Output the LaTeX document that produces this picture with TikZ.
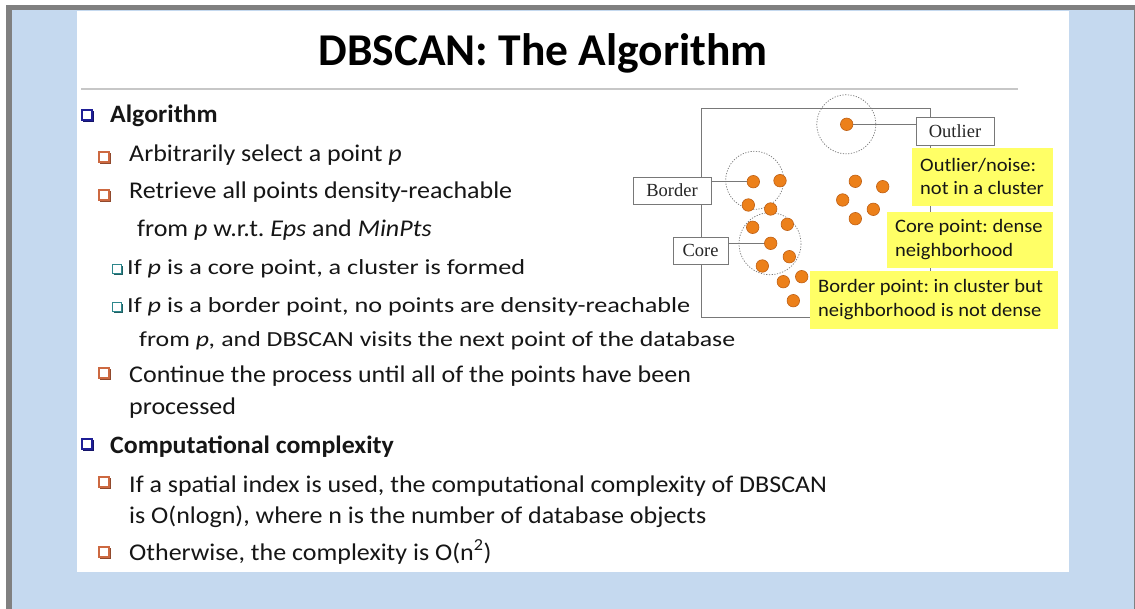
\documentclass[tikz,border=0pt]{standalone}
\usepackage{fontspec}
\setmainfont{Carlito}
\newfontfamily\tms{Liberation Serif}
\newfontfamily\bodyH[FakeStretch=1.035]{Carlito}
\newfontfamily\bodyA[FakeStretch=1.083]{Carlito}
\newfontfamily\bodyB[FakeStretch=1.22]{Carlito}
\newfontfamily\bodyY[FakeStretch=1.08]{Carlito}
\frenchspacing
\definecolor{slideblue}{RGB}{197,217,239}
\definecolor{framegray}{RGB}{128,128,128}
\definecolor{bulblue}{RGB}{30,30,150}
\definecolor{bulorange}{RGB}{205,105,65}
\definecolor{bulteal}{RGB}{45,135,140}
\definecolor{ptorange}{RGB}{236,128,26}
\definecolor{ptedge}{RGB}{190,95,20}
\definecolor{hl}{RGB}{255,255,102}
\definecolor{txt}{RGB}{22,22,22}
\definecolor{lineg}{RGB}{120,120,120}
\begin{document}
\begin{tikzpicture}[x=1pt,y=-1pt,
  lvlA/.style={anchor=base west,inner sep=0,text=txt,font=\bodyH\bfseries\fontsize{25}{30}\selectfont},
  lvlB/.style={anchor=base west,inner sep=0,text=txt,font=\bodyA\fontsize{24}{29}\selectfont},
  lvlC/.style={anchor=base west,inner sep=0,text=txt,font=\bodyB\fontsize{21.5}{26}\selectfont},
  pt/.style={circle,fill=ptorange,draw=ptedge,line width=0.6pt,minimum size=12.5pt,inner sep=0},
  nbhd/.style={draw=lineg,dash pattern=on 1.2pt off 1.5pt,line width=0.7pt},
  lab/.style={draw=lineg,fill=white,line width=0.9pt,inner sep=0,font=\tms\fontsize{18.5}{20}\selectfont,text=black!85},
  notebox/.style={fill=hl,anchor=north west,inner sep=0},
  notetext/.style={anchor=base west,inner sep=0,text=txt,font=\bodyY\fontsize{19}{23.5}\selectfont},
  conn/.style={draw=lineg,line width=0.9pt},
  pics/sqb/.style={code={
    \draw[line width=1.5pt,#1] (-5,-5) rectangle (5,5);
    \draw[line width=1.5pt,#1!70!black] (-3.8,6.4) -- (6.4,6.4) -- (6.4,-3.8);}},
  pics/sqbs/.style={code={
    \draw[line width=1.3pt,#1] (-4.4,-4.4) rectangle (4.4,4.4);
    \draw[line width=1.3pt,#1!70!black] (-3.3,5.6) -- (5.6,5.6) -- (5.6,-3.3);}}
]
\useasboundingbox (0,0) rectangle (1135,609);
% frame
\fill[white] (0,0) rectangle (1135,609);
\fill[framegray] (6,5) rectangle (1135,609);
\fill[slideblue] (12,10) rectangle (1133.5,609);
\fill[white] (77,11) rectangle (1069,572);
% title
\node[anchor=base,inner sep=0,font=\bfseries\fontsize{45.5}{50}\selectfont,text=black] (title) at (543,65.5) {DBSCAN: The Algorithm};
\draw[line width=1.6pt,black!22] (81,89) -- (1018,89);
% bullets
\pic at (87,115) {sqb=bulblue};
\pic at (104,157) {sqb=bulorange};
\pic at (104,195) {sqb=bulorange};
\pic at (117,269) {sqbs=bulteal};
\pic at (117,307) {sqbs=bulteal};
\pic at (104,373) {sqb=bulorange};
\pic at (87,444) {sqb=bulblue};
\pic at (104,482) {sqb=bulorange};
\pic at (104,552) {sqb=bulorange};
% text
\node[lvlA] (t1) at (110,123) {Algorithm};
\node[lvlB] (t2) at (129,162) {Arbitrarily select a point \textit{p}};
\node[lvlB] (t3) at (129,199) {Retrieve all points density-reachable};
\node[lvlB] (t4) at (137,237) {from \textit{p} w.r.t. \textit{Eps} and \textit{MinPts}};
\node[lvlC] (t5) at (127,275) {If \textit{p} is a core point, a cluster is formed};
\node[lvlC] (t6) at (127,313) {If \textit{p} is a border point, no points are density-reachable};
\node[lvlC,xscale=0.985] (t7) at (139,347) {from \textit{p,} and DBSCAN visits the next point of the database};
\node[lvlB] (t8) at (129,383) {Continue the process until all of the points have been};
\node[lvlB] (t9) at (129,414) {processed};
\node[lvlA] (t10) at (110,453) {Computational complexity};
\node[lvlB] (t11) at (129,492) {If a spatial index is used, the computational complexity of DBSCAN};
\node[lvlB] (t12) at (129,523) {is O(nlogn), where n is the number of database objects};
\node[lvlB] (t13) at (129,560) {Otherwise, the complexity is O(n\textsuperscript{2})};
% diagram frame
\draw[lineg,line width=0.9pt] (701,108) rectangle (930,317.5);
% neighbourhoods
\draw[nbhd] (754.7,180.3) circle (29);
\draw[nbhd] (770,243.7) circle (31);
\draw[nbhd] (846.3,124.3) circle (29.5);
% points
\node[pt] (p1) at (753.3,181.7) {};
\node[pt] (p2) at (780,180.7) {};
\node[pt] (p3) at (748.3,205) {};
\node[pt] (p4) at (770.7,209) {};
\node[pt] (p5) at (752.7,227.3) {};
\node[pt] (p6) at (787.3,224.3) {};
\node[pt] (p7) at (770.7,243.3) {};
\node[pt] (p8) at (789.3,256.7) {};
\node[pt] (p9) at (762.3,266) {};
\node[pt] (p10) at (801.7,276.7) {};
\node[pt] (p11) at (783.3,281.7) {};
\node[pt] (p12) at (793.3,300.7) {};
\node[pt] (p13) at (846.7,124.3) {};
\node[pt] (p14) at (855.3,181.3) {};
\node[pt] (p15) at (882.7,186.7) {};
\node[pt] (p16) at (842.7,200) {};
\node[pt] (p17) at (873.3,209.3) {};
\node[pt] (p18) at (855.3,218.7) {};
% labels
\node[lab,minimum width=78pt,minimum height=27pt] (border) at (672,190.5) {Border};
\node[lab,minimum width=55pt,minimum height=27pt] (core) at (700.5,250.5) {Core};
\node[lab,minimum width=78pt,minimum height=28pt] (outlier) at (955,131) {Outlier};
\draw[conn] (border.east |- p1) -- (p1.west);
\draw[conn] (core.east |- p7) -- (p7.west);
\draw[conn] (p13.east) -- (p13 -| outlier.west);
% notes
\node[notebox,minimum width=141pt,minimum height=58pt] (n1) at (912,148) {};
\node[notebox,minimum width=166pt,minimum height=56pt] (n2) at (887,212) {};
\node[notebox,minimum width=248pt,minimum height=58pt] (n3) at (810,271) {};
\node[notetext] (n1a) at (920,172) {Outlier/noise:};
\node[notetext] (n1b) at (920,195) {not in a cluster};
\node[notetext] (n2a) at (895,233) {Core point: dense};
\node[notetext] (n2b) at (895,257) {neighborhood};
\node[notetext] (n3a) at (818,293) {Border point: in cluster but};
\node[notetext] (n3b) at (818,317) {neighborhood is not dense};
\end{tikzpicture}
\end{document}
